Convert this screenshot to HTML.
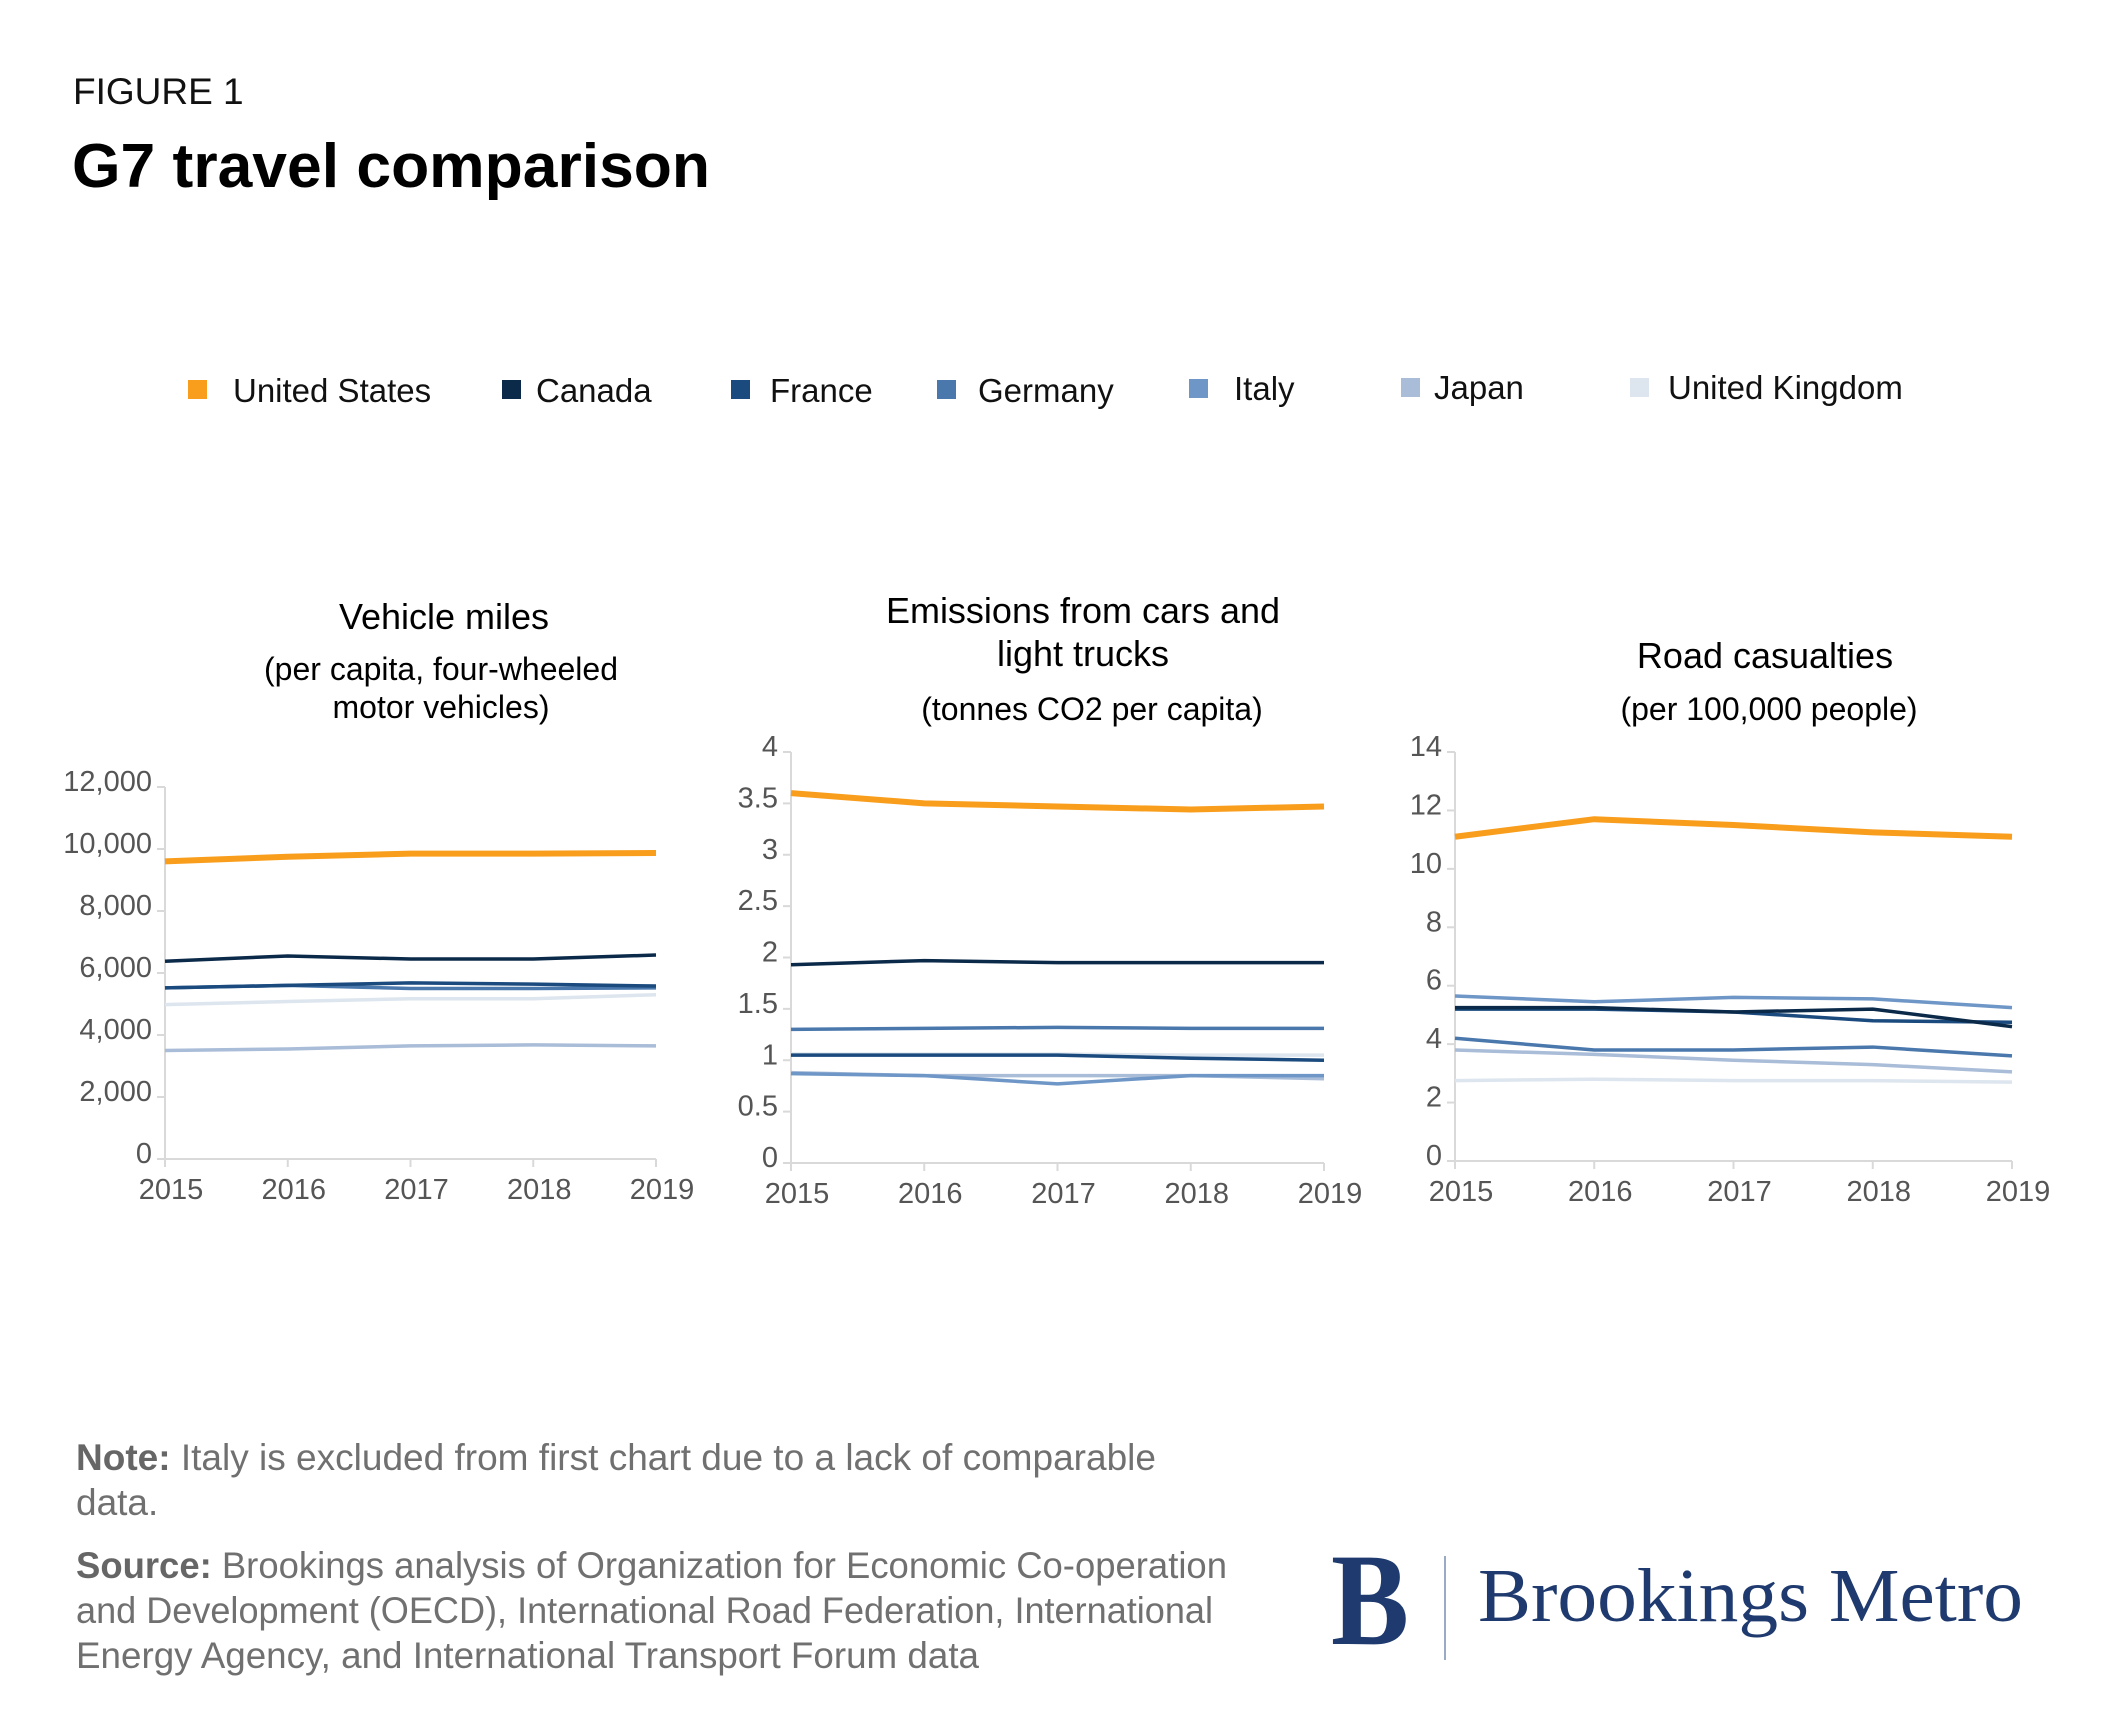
<!DOCTYPE html>
<html><head><meta charset="utf-8"><style>
html,body{margin:0;padding:0;background:#fff}
body{width:2101px;height:1721px;position:relative;overflow:hidden;font-family:"Liberation Sans",sans-serif}
</style></head><body>
<svg id="s" width="2101" height="1721" viewBox="0 0 2101 1721" xmlns="http://www.w3.org/2000/svg" style="position:absolute;left:0;top:0">
<g font-family="Liberation Sans, sans-serif">
<text x="73" y="104" font-size="37" fill="#111">FIGURE 1</text>
<text x="72" y="187" font-size="62" font-weight="bold" fill="#000" textLength="638" lengthAdjust="spacingAndGlyphs">G7 travel comparison</text>
<!-- legend -->
<g font-size="33" fill="#111">
<rect x="188" y="380" width="19" height="19" fill="#f99d1c"/><text x="233" y="402">United States</text>
<rect x="502" y="380" width="19" height="19" fill="#0b2a4a"/><text x="536" y="402">Canada</text>
<rect x="731" y="380" width="19" height="19" fill="#1a4a7e"/><text x="770" y="402">France</text>
<rect x="937" y="380" width="19" height="19" fill="#4a78ad"/><text x="978" y="402">Germany</text>
<rect x="1189" y="379" width="19" height="19" fill="#6e96c6"/><text x="1234" y="400">Italy</text>
<rect x="1401" y="378" width="19" height="19" fill="#a9bcd8"/><text x="1434" y="399">Japan</text>
<rect x="1630" y="378" width="19" height="19" fill="#dde5ee"/><text x="1668" y="399">United Kingdom</text>
</g>
<!-- titles -->
<g font-size="36" fill="#000" text-anchor="middle">
<text x="444" y="629">Vehicle miles</text>
<text x="441" y="680" font-size="32">(per capita, four-wheeled</text>
<text x="441" y="718" font-size="32">motor vehicles)</text>
<text x="1083" y="623">Emissions from cars and</text>
<text x="1083" y="666">light trucks</text>
<text x="1092" y="720" font-size="32">(tonnes CO2 per capita)</text>
<text x="1765" y="668">Road casualties</text>
<text x="1769" y="720" font-size="32">(per 100,000 people)</text>
</g>
<g id="charts"></g>
<!-- footer -->
<g font-size="37" fill="#707070">
<text x="76" y="1470" textLength="1080" lengthAdjust="spacingAndGlyphs"><tspan font-weight="bold" fill="#666">Note:</tspan> Italy is excluded from first chart due to a lack of comparable</text>
<text x="76" y="1515">data.</text>
<text x="76" y="1578" textLength="1151" lengthAdjust="spacingAndGlyphs"><tspan font-weight="bold" fill="#666">Source:</tspan> Brookings analysis of Organization for Economic Co-operation</text>
<text x="76" y="1623" textLength="1137" lengthAdjust="spacingAndGlyphs">and Development (OECD), International Road Federation, International</text>
<text x="76" y="1668" textLength="903" lengthAdjust="spacingAndGlyphs">Energy Agency, and International Transport Forum data</text>
</g>
<text x="1331" y="1644" font-family="Liberation Serif, serif" font-size="132" font-weight="bold" fill="#1f3a6e" textLength="78" lengthAdjust="spacingAndGlyphs">B</text>
<line x1="1445" y1="1556" x2="1445" y2="1660" stroke="#9aaac4" stroke-width="2"/>
<text x="1478" y="1621" font-family="Liberation Serif, serif" font-size="76" fill="#1f3a6e" textLength="545" lengthAdjust="spacingAndGlyphs">Brookings Metro</text>
</g>
</svg>
<script>
var C={us:"#f99d1c",ca:"#0b2a4a",fr:"#1a4a7e",de:"#4a78ad",it:"#6e96c6",jp:"#a9bcd8",uk:"#dde5ee"};
var charts=[
{x0:165,x1:656,y0:1159,y1:787,max:12000,ticks:[0,2000,4000,6000,8000,10000,12000],lab:function(v){return v.toLocaleString("en-US")},
 s:[["uk",[4980,5080,5170,5170,5300]],["jp",[3500,3550,3650,3680,3650]],["de",[5520,5600,5500,5500,5520]],["fr",[5520,5600,5680,5640,5580]],["ca",[6380,6550,6450,6450,6580]],["us",[9600,9750,9850,9850,9870]]]},
{x0:791,x1:1324,y0:1163,y1:752,max:4,ticks:[0,0.5,1,1.5,2,2.5,3,3.5,4],lab:function(v){return String(v)},
 s:[["uk",[1.06,1.06,1.06,1.05,1.05]],["jp",[0.88,0.85,0.85,0.85,0.82]],["it",[0.87,0.85,0.77,0.85,0.85]],["de",[1.3,1.31,1.32,1.31,1.31]],["fr",[1.05,1.05,1.05,1.02,1.0]],["ca",[1.93,1.97,1.95,1.95,1.95]],["us",[3.6,3.5,3.47,3.44,3.47]]]},
{x0:1455,x1:2012,y0:1161,y1:752,max:14,ticks:[0,2,4,6,8,10,12,14],lab:function(v){return String(v)},
 s:[["uk",[2.75,2.8,2.75,2.75,2.7]],["jp",[3.8,3.65,3.45,3.3,3.05]],["de",[4.2,3.8,3.8,3.9,3.6]],["it",[5.65,5.45,5.6,5.55,5.25]],["fr",[5.2,5.2,5.1,4.8,4.75]],["ca",[5.25,5.25,5.1,5.2,4.6]],["us",[11.1,11.7,11.5,11.25,11.1]]]}];
var h="";
charts.forEach(function(c){
 var X=function(i){return c.x0+i*(c.x1-c.x0)/4},Y=function(v){return c.y0-v/c.max*(c.y0-c.y1)};
 h+='<line x1="'+c.x0+'" y1="'+c.y1+'" x2="'+c.x0+'" y2="'+(c.y0+6)+'" stroke="#d9d9d9" stroke-width="2"/>';
 h+='<line x1="'+(c.x0-8)+'" y1="'+c.y0+'" x2="'+c.x1+'" y2="'+c.y0+'" stroke="#d9d9d9" stroke-width="2"/>';
 c.ticks.forEach(function(t){var y=Y(t);h+='<line x1="'+(c.x0-8)+'" y1="'+y+'" x2="'+c.x0+'" y2="'+y+'" stroke="#d9d9d9" stroke-width="2"/><text x="'+(c.x0-13)+'" y="'+(y+4)+'" font-size="29" fill="#555" text-anchor="end">'+c.lab(t)+'</text>';});
 for(var i=0;i<5;i++){var x=X(i);h+='<line x1="'+x+'" y1="'+c.y0+'" x2="'+x+'" y2="'+(c.y0+8)+'" stroke="#d9d9d9" stroke-width="2"/><text x="'+(x+6)+'" y="'+(c.y0+40)+'" font-size="29" fill="#555" text-anchor="middle">'+(2015+i)+'</text>';}
 c.s.forEach(function(s){var p=s[1].map(function(v,i){return X(i)+","+Y(v)}).join(" ");
  h+='<polyline points="'+p+'" fill="none" stroke="'+C[s[0]]+'" stroke-width="'+(s[0]=="us"?6:3.5)+'" stroke-linejoin="round"/>';});
});
document.getElementById("charts").innerHTML=h;
</script>
</body></html>
